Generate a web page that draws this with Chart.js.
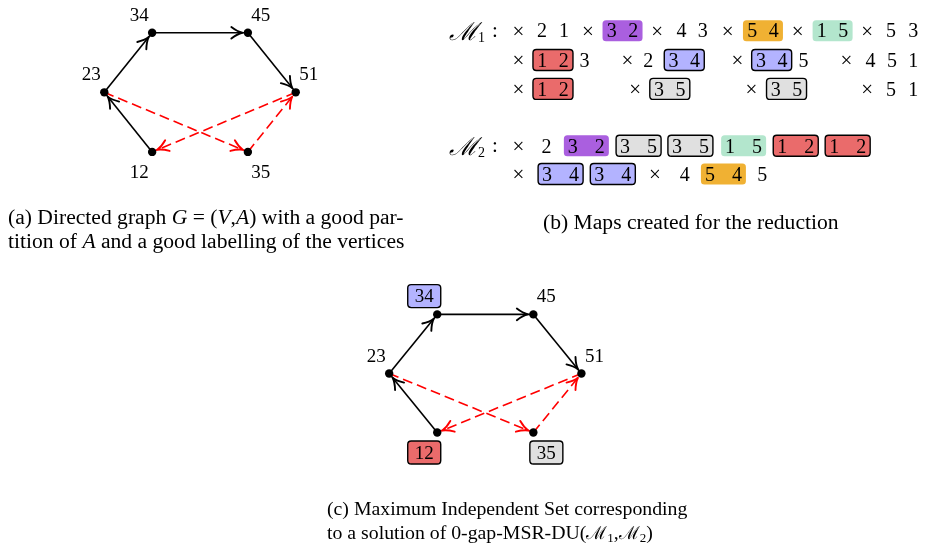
<!DOCTYPE html>
<html><head><meta charset="utf-8">
<script src="https://cdn.jsdelivr.net/npm/chart.js@4/dist/chart.umd.min.js"></script>
<style>html,body{margin:0;padding:0;background:#fff;overflow:hidden}canvas{display:block}</style>
</head><body>
<canvas id="c" width="925" height="551"></canvas>
<script>
// ---------- data ----------
const vertexLabels = ['23','34','45','51','12','35'];
const vertexCol    = [0, 1, 3, 4, 1, 3];
const vertexRow    = [1, 0, 0, 1, 2, 2];
const blackArcs = [['23','34'],['34','45'],['45','51'],['12','23']];
const redArcs   = [['23','35'],['51','12'],['35','51']];
const independentSet = ['34','12','35'];
const pairColors = {'32':'#AA5FDF','54':'#F0B133','15':'#B3E6CD','12':'#EA6B6B','34':'#B3B3FF','35':'#E0E0E0'};
const M1row1 = ['×','2','1','×','32','×','4','3','×','54','×','15','×','5','3'];
const M1row2 = ['×','12','3','×','2','34','×','34','5','×','4','5','1'];
const M1row3 = ['×','12','×','35','×','35','×','5','1'];
const M2row1 = ['×','2','32','35','35','15','12','12'];
const M2row2 = ['×','34','34','×','4','54','5'];
const captionA1 = 'Directed graph';
const captionB = '(b) Maps created for the reduction';
const captionC1 = '(c) Maximum Independent Set corresponding';

// ---------- layout (pixels) ----------
const M1x = [
  [519,542.7,565,589,624,659,683.5,705,730,765.7,800.7,836,871,895,917.3],
  [519,553.8,585.7,629,650,686.3,740,774.5,806.7,850,874.3,896,917.3],
  [519,553.8,636.7,671.7,754,789.5,871,895,917.3]
];
const M1y = [27,56.7,86];
const M2x = [
  [519,547.3,587.5,640.2,692.5,746.2,798.8,851.2],
  [519,561.5,614.2,656.7,686.7,725.8,765]
];
const M2y = [143.8,172.5];
const SERIF = "'Liberation Serif','DejaVu Serif',serif";

function vIdx(v){return vertexLabels.indexOf(v);}
function arcData(a){return a.map(v=>({x:vertexCol[vIdx(v)],y:vertexRow[vIdx(v)]}));}
function nodeData(){return vertexLabels.map((v,i)=>({x:vertexCol[i],y:vertexRow[i]}));}

const datasets=[];
['A','C'].forEach(p=>{
  blackArcs.forEach(a=>datasets.push({type:'line',data:arcData(a),xAxisID:'x'+p,yAxisID:'y'+p,
    borderColor:'#000',borderWidth:1.6,pointRadius:0,fill:false,tension:0,order:2,isArc:true}));
  redArcs.forEach(a=>datasets.push({type:'line',data:arcData(a),xAxisID:'x'+p,yAxisID:'y'+p,
    borderColor:'#FF0000',borderWidth:1.6,borderDash:[10,5],pointRadius:0,fill:false,tension:0,order:2,isArc:true}));
  datasets.push({type:'scatter',data:nodeData(),xAxisID:'x'+p,yAxisID:'y'+p,pointRadius:4.2,
    pointBackgroundColor:'#000',pointBorderWidth:0,order:0,panel:p});
});

function sc(axis,min,max,rev){return {type:'linear',axis,min,max,reverse:!!rev,display:false,bounds:'data',grid:{display:false}};}
const W=925,H=551;
const scales={
  xA: sc('x',-101/48.3,-101/48.3+W/48.3),
  yA: sc('y',-29/60.5,-29/60.5+H/60.5,true),
  xC: sc('x',-388.5/48.5,-388.5/48.5+W/48.5),
  yC: sc('y',-315/60,-315/60+H/60,true),
  xP: sc('x',0,W),
  yP: sc('y',0,H,true)
};

function rrect(ctx,x,y,w,h,r){ctx.beginPath();ctx.moveTo(x+r,y);ctx.lineTo(x+w-r,y);ctx.quadraticCurveTo(x+w,y,x+w,y+r);
  ctx.lineTo(x+w,y+h-r);ctx.quadraticCurveTo(x+w,y+h,x+w-r,y+h);ctx.lineTo(x+r,y+h);ctx.quadraticCurveTo(x,y+h,x,y+h-r);
  ctx.lineTo(x,y+r);ctx.quadraticCurveTo(x,y,x+r,y);ctx.closePath();}

function arrowHead(ctx,x0,y0,x1,y1,color){
  const dx=x1-x0,dy=y1-y0,len=Math.hypot(dx,dy),ux=dx/len,uy=dy/len,px=-uy,py=ux;
  const tx=x1-ux*5.5,ty=y1-uy*5.5,L=11,Wd=5.8;
  ctx.save();ctx.strokeStyle=color;ctx.lineWidth=1.9;ctx.lineCap='round';ctx.lineJoin='round';ctx.setLineDash([]);
  ctx.beginPath();
  [1,-1].forEach(s=>{
    ctx.moveTo(tx-ux*L+px*Wd*s,ty-uy*L+py*Wd*s);
    ctx.quadraticCurveTo(tx-ux*L*0.45+px*Wd*0.2*s,ty-uy*L*0.45+py*Wd*0.2*s,tx,ty);
  });
  ctx.stroke();ctx.restore();
}

function runs(ctx,parts,x,y){let cx=x;parts.forEach(([t,f,dy])=>{ctx.font=f;ctx.fillText(t,cx,y+(dy||0));cx+=ctx.measureText(t).width;});}

function drawTokens(ctx,sx,sy,tokens,xs,yc,boxW,gap){
  tokens.forEach((t,i)=>{
    const x=sx.getPixelForValue(xs[i]),y=sy.getPixelForValue(yc);
    ctx.fillStyle='#000';ctx.font='20px '+SERIF;ctx.textAlign='center';ctx.textBaseline='alphabetic';
    if(t.length===2){
      rrect(ctx,x-boxW/2,y-10.5,boxW,21,3.5);
      ctx.fillStyle=pairColors[t];ctx.fill();
      if(independentSet.includes(t)){ctx.lineWidth=1.4;ctx.strokeStyle='#000';ctx.stroke();}
      ctx.fillStyle='#000';
      ctx.fillText(t[0],x-gap/2,y+6.7);ctx.fillText(t[1],x+gap/2,y+6.7);
    } else if(t==='×'){
      ctx.font='21px '+SERIF;ctx.fillText(t,x,y+7);
    } else ctx.fillText(t,x,y+6.7);
  });
}

const figPlugin={id:'fig',afterDatasetsDraw(chart){
  const ctx=chart.ctx;
  chart.data.datasets.forEach((ds,i)=>{
    if(!ds.isArc)return;
    const pts=chart.getDatasetMeta(i).data;
    arrowHead(ctx,pts[0].x,pts[0].y,pts[1].x,pts[1].y,ds.borderColor);
  });
  ['A','C'].forEach(p=>{
    const sx=chart.scales['x'+p],sy=chart.scales['y'+p];
    vertexLabels.forEach((v,i)=>{
      const x=sx.getPixelForValue(vertexCol[i])+(vertexCol[i]<=1?-13:13);
      const y=sy.getPixelForValue(vertexRow[i])+(vertexRow[i]<2?-18.3:20);
      if(p==='C'&&independentSet.includes(v)){
        rrect(ctx,x-16.5,y-11.5,33,23,3.5);ctx.fillStyle=pairColors[v];ctx.fill();
        ctx.lineWidth=1.4;ctx.strokeStyle='#000';ctx.stroke();
      }
      ctx.fillStyle='#000';ctx.font='19px '+SERIF;ctx.textAlign='center';ctx.textBaseline='alphabetic';
      ctx.fillText(v,x,y+6.4);
    });
  });
  const sx=chart.scales.xP,sy=chart.scales.yP;
  [[M1row1,M1row2,M1row3],[M2row1,M2row2]].forEach((rows,m)=>{
    const xs=m===0?M1x:M2x,ys=m===0?M1y:M2y;
    rows.forEach((r,k)=>drawTokens(ctx,sx,sy,r,xs[k],ys[k],m===0?40:45,m===0?21.5:27));
    const ly=sy.getPixelForValue(ys[0]);
    ctx.fillStyle='#000';ctx.textAlign='left';
    ctx.font="italic 25px 'DejaVu Serif','Liberation Serif',serif";ctx.fillText('ℳ',449,ly+9);
    ctx.font='14px '+SERIF;ctx.fillText(String(m+1),478,ly+11);
    ctx.font='21px '+SERIF;ctx.fillText(':',492,ly+6);
  });
  ctx.fillStyle='#000';ctx.textAlign='left';ctx.textBaseline='alphabetic';
  const F='21.6px '+SERIF,FI='italic 21.6px '+SERIF;
  runs(ctx,[['(a) '+captionA1+' ',F],['G',FI],[' = (',F],['V',FI],[',',F],['A',FI],[') with a good par-',F]],8,224);
  runs(ctx,[['tition of ',F],['A',FI],[' and a good labelling of the vertices',F]],8,248);
  runs(ctx,[[captionB,F]],543,229);
  const F2='19.8px '+SERIF;
  runs(ctx,[[captionC1,F2]],327,515);
  const FM="18px 'DejaVu Serif','Liberation Serif',serif",FS='13px '+SERIF;
  runs(ctx,[['to a solution of 0-gap-MSR-DU(',F2],['ℳ',FM],['1',FS,3],[',',F2],['ℳ',FM],['2',FS,3],[')',F2]],327,539);
}};

new Chart(document.getElementById('c'),{
  type:'scatter',
  data:{datasets},
  options:{responsive:false,animation:false,events:[],layout:{padding:0},scales,
    plugins:{legend:{display:false},tooltip:{enabled:false},title:{display:false}}},
  plugins:[figPlugin]
});
</script>
</body></html>
